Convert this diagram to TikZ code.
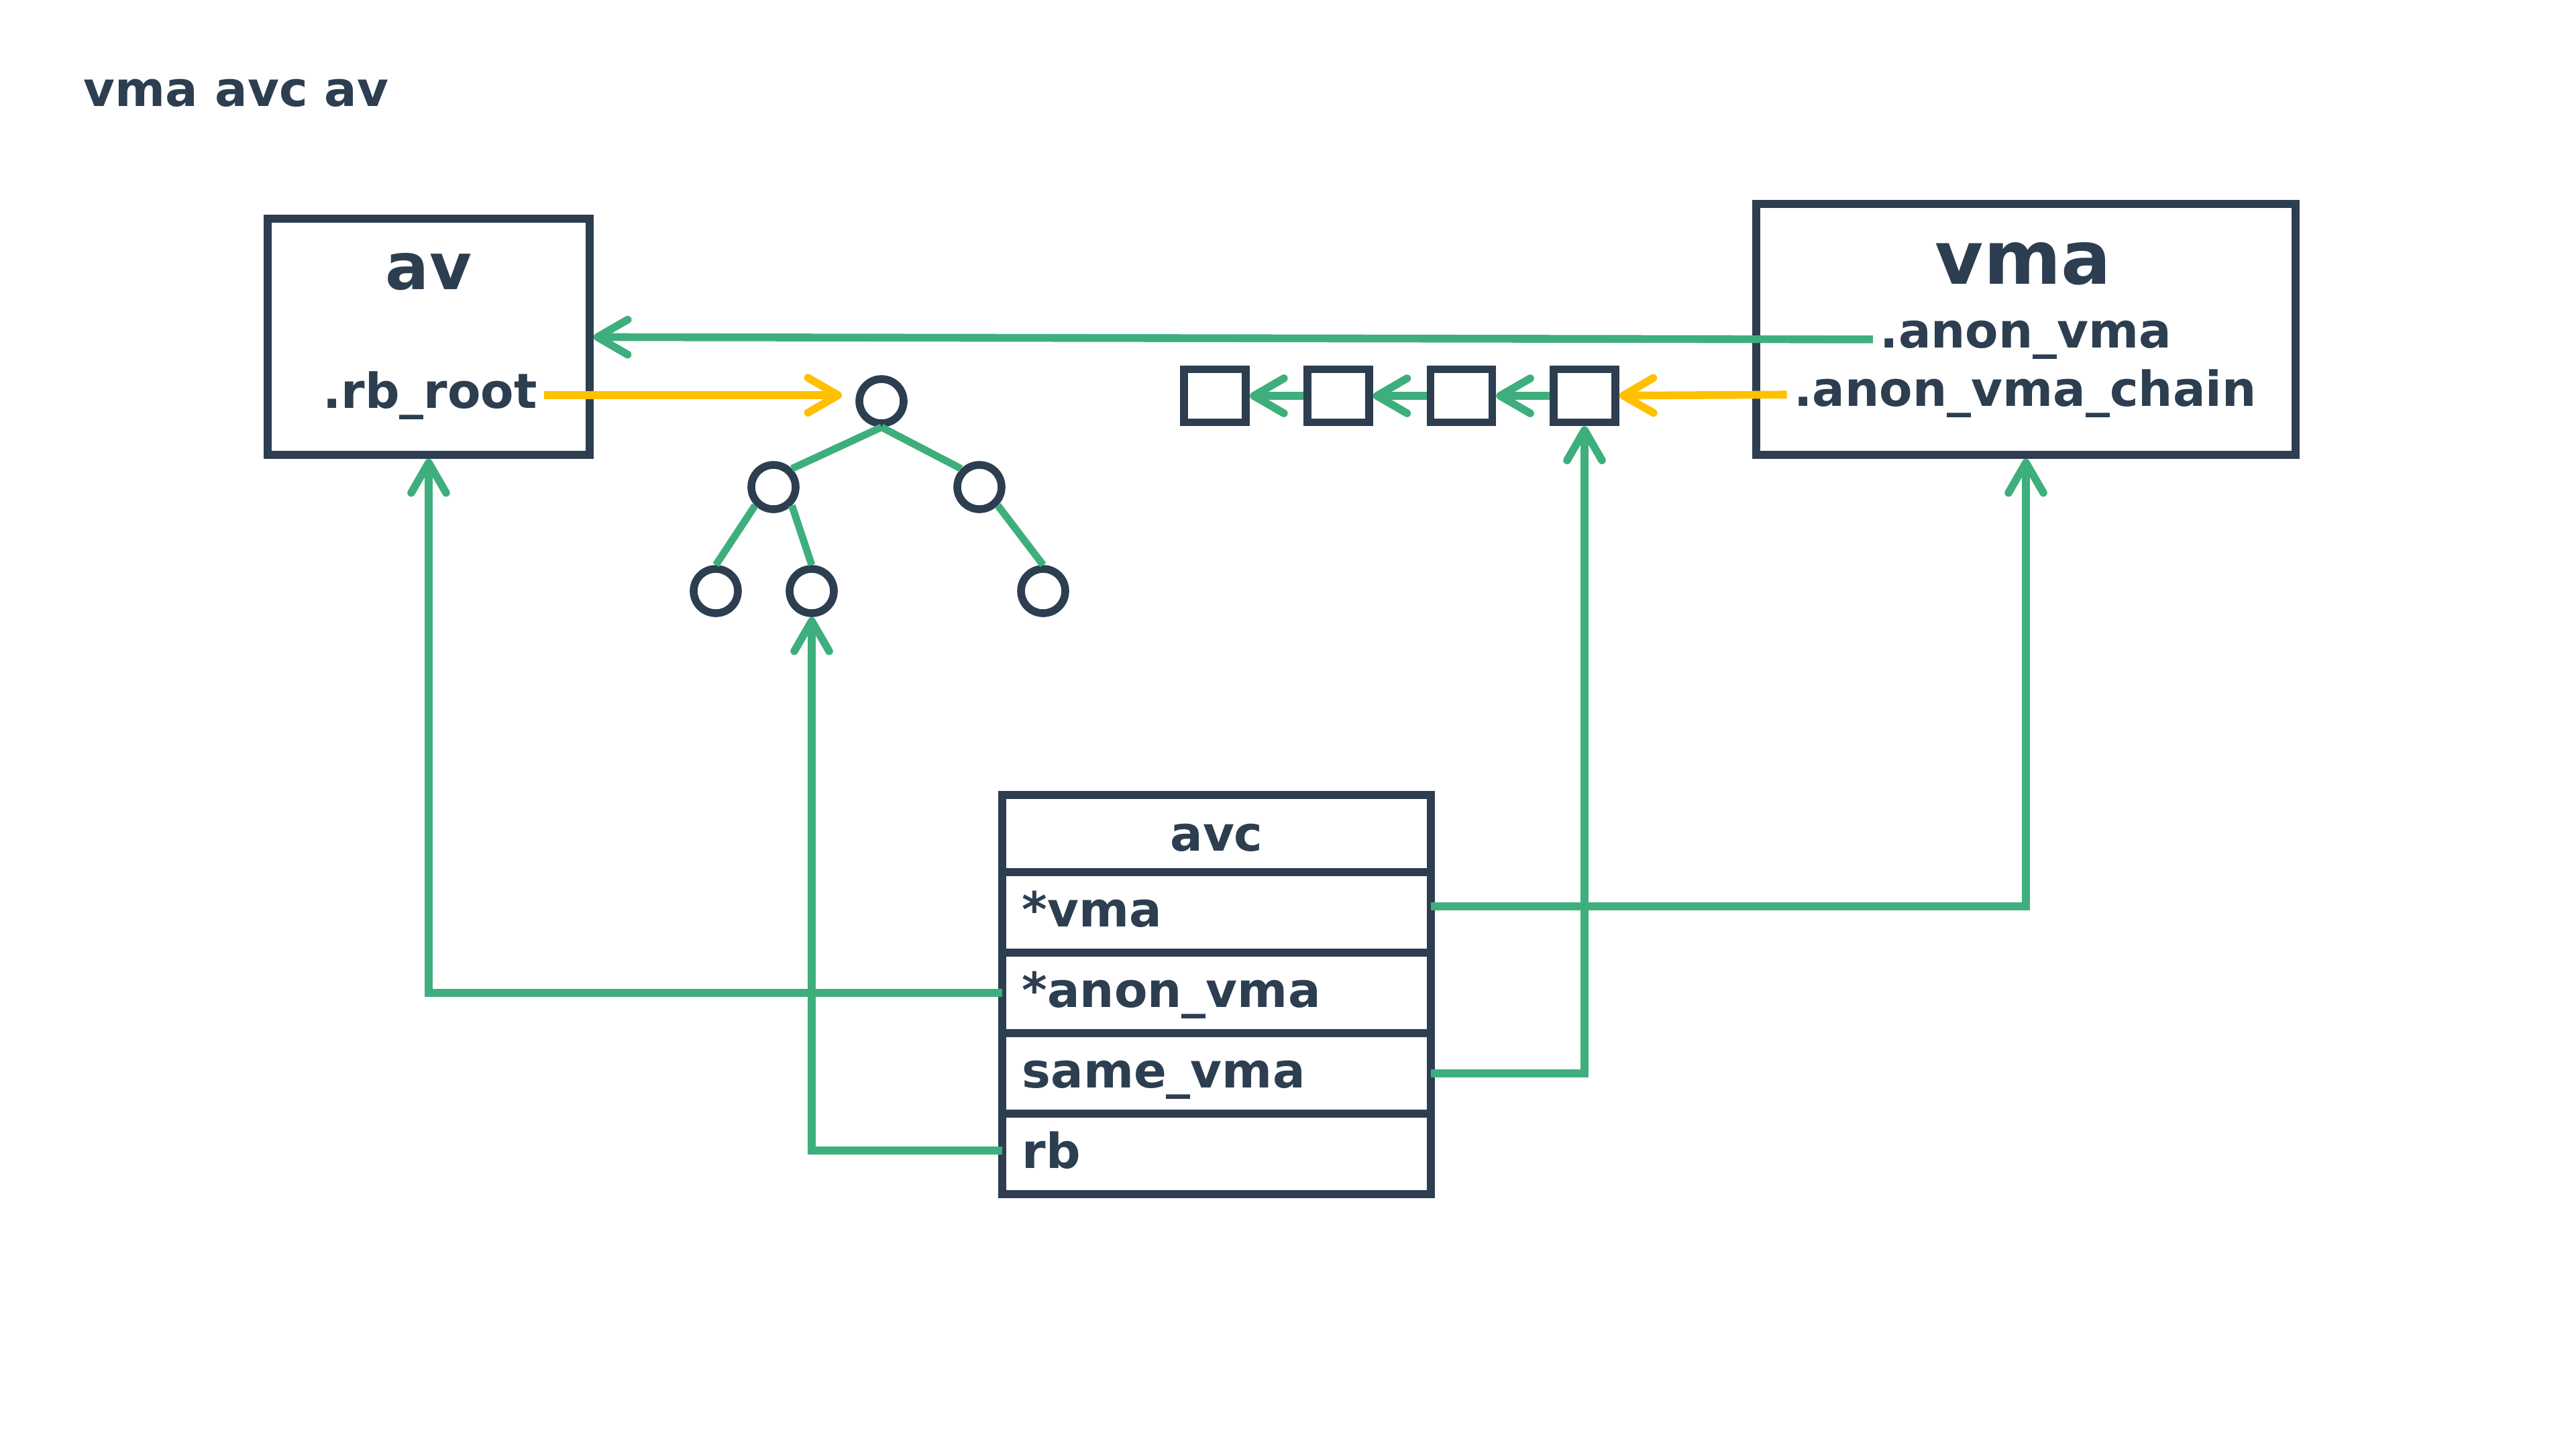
\documentclass[tikz,border=0pt]{standalone}
\usepackage{fontspec}
\setmainfont{DejaVu Sans}
\usetikzlibrary{positioning, arrows.meta}

\definecolor{ink}{HTML}{2C3E50}
\definecolor{linkgreen}{HTML}{3EAF7C}
\definecolor{keyyellow}{HTML}{FFC000}

\begin{document}
\begin{tikzpicture}[
    node distance=0.8cm,
    structbox/.style={
        rectangle,
        draw=ink,
        fill=white,
        line width=3.3pt
    },
    fieldtext/.style={
        text=ink,
        inner sep=0.1cm,
        font=\fontsize{20.5pt}{24pt}\selectfont\bfseries
    },
    avcrow/.style={
        rectangle,
        draw=ink,
        line width=3.3pt,
        outer sep=0pt,
        text=ink,
        text width=5.8cm,
        inner xsep=0.295cm,
        inner ysep=0pt,
        text height=0.815cm,
        text depth=0.385cm,
        align=left,
        font=\fontsize{20.5pt}{24pt}\selectfont\bfseries
    },
    avchead/.style={
        avcrow,
        align=center,
        text height=0.83cm,
        text depth=0.32cm
    },
    treenode/.style={
        circle,
        draw=ink,
        fill=white,
        line width=3.3pt,
        minimum size=0.66cm,
        inner sep=0pt
    },
    chainbox/.style={
        rectangle,
        draw=ink,
        fill=white,
        line width=3.3pt,
        minimum width=0.92cm,
        minimum height=0.79cm,
        inner sep=0pt
    },
    link/.style={
        -{Straight Barb[length=0.45cm, width=0.52cm, round]},
        line width=3.3pt,
        draw=linkgreen
    },
    keylink/.style={
        link,
        draw=keyyellow
    },
    treeedge/.style={
        line width=3.1pt,
        draw=linkgreen
    }
]

\useasboundingbox (0,0) rectangle (38.4,-21.41);

\node[fieldtext, anchor=base west] (title) at (1.14,-1.58) {vma avc av};

% struct anon_vma
\node[structbox, minimum width=4.8cm, minimum height=3.52cm] (av) at (6.39,-5.02) {};
\node[fieldtext, font=\fontsize{27.5pt}{32pt}\selectfont\bfseries, anchor=base] (avname) at (6.39,-4.31) {av};
\node[fieldtext, anchor=base] (rbrootfield) at (6.41,-6.08) {.rb\_root};

% struct vm_area_struct
\node[structbox, minimum width=8.04cm, minimum height=3.74cm] (vma) at (30.20,-4.91) {};
\node[fieldtext, font=\fontsize{31.5pt}{36pt}\selectfont\bfseries, anchor=base] (vmaname) at (30.16,-4.23) {vma};
\node[fieldtext, anchor=base] (anonvma) at (30.20,-5.18) {.anon\_vma};
\node[fieldtext, anchor=base] (chain) at (30.19,-6.05) {.anon\_vma\_chain};

% rb tree
\node[treenode] (troot) at (13.14,-5.98) {};
\node[treenode] (tl) at (11.53,-7.26) {};
\node[treenode] (tr) at (14.60,-7.26) {};
\node[treenode] (tll) at (10.67,-8.81) {};
\node[treenode] (tlr) at (12.10,-8.81) {};
\node[treenode] (trr) at (15.55,-8.81) {};

\draw[treeedge] (troot.south) -- (tl.north east);
\draw[treeedge] (troot.south) -- (tr.north west);
\draw[treeedge] (tl.south west) -- (tll.north);
\draw[treeedge] (tl.south east) -- (tlr.north);
\draw[treeedge] (tr.south east) -- (trr.north);

% avc list
\node[chainbox] (sq4) at (23.62,-5.90) {};
\node[chainbox, left=of sq4] (sq3) {};
\node[chainbox, left=of sq3] (sq2) {};
\node[chainbox, left=of sq2] (sq1) {};

\draw[link] (sq4) -- (sq3);
\draw[link] (sq3) -- (sq2);
\draw[link] (sq2) -- (sq1);

% struct anon_vma_chain
\node[avchead] (avc) at (18.135,-12.425) {avc};
\node[avcrow, below=0pt of avc] (avcvma) {*vma};
\node[avcrow, below=0pt of avcvma] (avcanon) {*anon\_vma};
\node[avcrow, below=0pt of avcanon] (avcsame) {same\_vma};
\node[avcrow, below=0pt of avcsame] (avcrb) {rb};

\draw[link] (anonvma) -- (av);
\draw[keylink, shorten >=0.2cm] (rbrootfield) -- (rbrootfield -| troot.west);
\draw[keylink] (chain) -- (sq4);

\draw[link] ([yshift=0.09cm]avcvma.east) -| (vma.south);
\draw[link] (avcanon.west) -| (av.south);
\draw[link] (avcsame.east) -| (sq4.south);
\draw[link] ([yshift=0.05cm]avcrb.west) -| (tlr.south);

\end{tikzpicture}
\end{document}
